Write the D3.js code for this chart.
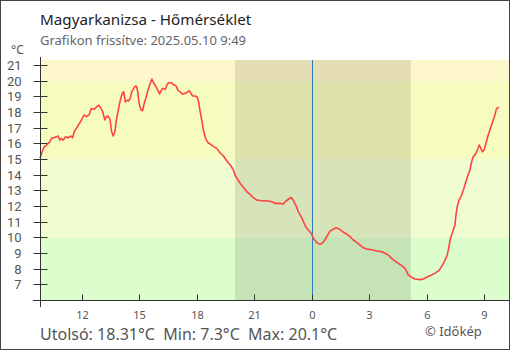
<!DOCTYPE html>
<html><head><meta charset="utf-8">
<script src="https://cdn.jsdelivr.net/npm/d3@7/dist/d3.min.js"></script>
<style>
html,body{margin:0;padding:0;background:#fff;}
svg{display:block;font-family:"Noto Sans",sans-serif;}
</style></head>
<body><svg id="c" width="510" height="350"></svg>
<script>
// ---- data ----
const times = ["09:50","09:57","10:03","10:11","10:16","10:21","10:26","10:35","10:42","10:47","10:52","10:57","11:03","11:10","11:18","11:27","11:32","11:37","11:44","11:52","12:00","12:08","12:16","12:23","12:31","12:40","12:47","12:54","13:01","13:06","13:13","13:18","13:23","13:29","13:34","13:39","13:44","13:49","13:55","14:00","14:07","14:12","14:17","14:24","14:27","14:32","14:37","14:46","14:51","14:55","15:00","15:06","15:11","15:16","15:21","15:28","15:35","15:40","15:45","15:53","15:59","16:04","16:09","16:14","16:22","16:27","16:32","16:40","16:48","16:55","17:01","17:08","17:16","17:22","17:29","17:37","17:43","17:48","17:55","18:01","18:06","18:11","18:16","18:21","18:27","18:32","18:37","18:42","18:52","19:03","19:13","19:24","19:34","19:45","19:55","20:00","20:06","20:16","20:26","20:37","20:47","20:57","21:08","21:24","21:39","21:55","22:05","22:21","22:31","22:39","22:47","22:55","23:02","23:10","23:18","23:27","23:34","23:41","23:49","23:58","00:05","00:16","00:26","00:36","00:47","00:57","01:08","01:16","01:26","01:37","01:49","02:00","02:10","02:21","02:31","02:41","02:52","03:08","03:23","03:39","03:49","03:59","04:10","04:20","04:31","04:41","04:52","05:02","05:12","05:23","05:38","05:49","05:59","06:15","06:25","06:39","06:49","06:57","07:04","07:09","07:14","07:21","07:28","07:31","07:35","07:41","07:49","07:56","08:02","08:09","08:15","08:20","08:25","08:30","08:38","08:44","08:49","08:54","08:59","09:05","09:12","09:19","09:26","09:33","09:38","09:43","09:46"];
const temps = [15.05,15.46,15.78,15.89,16.0,16.10,16.32,16.38,16.42,16.47,16.21,16.32,16.21,16.42,16.36,16.47,16.36,16.74,16.96,17.23,17.49,17.81,17.70,17.81,18.23,18.17,18.34,18.43,18.23,18.02,17.49,17.70,17.74,17.53,16.74,16.47,16.74,17.49,18.13,18.65,19.19,19.29,18.65,18.76,18.70,18.87,19.29,19.61,19.66,19.40,18.55,18.13,18.08,18.55,18.87,19.40,19.83,20.1,19.87,19.61,19.36,19.15,19.36,19.51,19.45,19.72,19.87,19.87,19.74,19.68,19.40,19.29,19.13,19.19,19.23,19.36,19.15,19.02,19.02,18.97,18.65,18.02,17.49,16.85,16.37,16.15,16.02,15.96,15.81,15.68,15.40,15.19,14.89,14.62,14.30,13.98,13.77,13.45,13.19,12.91,12.75,12.53,12.38,12.34,12.34,12.27,12.17,12.17,12.13,12.32,12.43,12.55,12.38,12.06,11.63,11.32,11.00,10.68,10.47,10.26,9.94,9.66,9.55,9.68,10.04,10.40,10.53,10.61,10.53,10.36,10.21,10.04,9.83,9.68,9.51,9.34,9.25,9.21,9.13,9.08,8.98,8.87,8.66,8.49,8.34,8.19,8.02,7.60,7.45,7.34,7.3,7.34,7.45,7.60,7.70,7.91,8.23,8.55,8.87,9.40,9.94,10.36,10.79,11.42,11.95,12.38,12.70,13.13,13.55,13.98,14.30,14.83,15.14,15.25,15.57,15.89,15.68,15.46,15.57,16.00,16.53,16.96,17.38,17.81,18.23,18.27,18.31];
const startDay = "2025-05-09";
const domainStart = "2025-05-09 09:50";
const domainEnd = "2025-05-10 10:17";
const nightStart = "2025-05-09 20:00";
const nightEnd = "2025-05-10 05:10";
const midnight = "2025-05-10 00:00";
const yTicks = [6,7,8,9,10,11,12,13,14,15,16,17,18,19,20,21];
const yLabels = ["","7","8","9","10","11","12","13","14","15","16","17","18","19","20","21"];
const bandFrom = [6,10,15,20];
const bandTo = [10,15,20,21.32];
const bandColors = ["#dcfdcc","#effdd0","#f6fcc0","#fff7cc"];
const title = "Magyarkanizsa - Hőmérséklet";
const subtitle = "Grafikon frissítve: 2025.05.10 9:49";
const lastVal = "18.31", minVal = "7.3", maxVal = "20.1";

// ---- build ----
const parse = d3.timeParse("%Y-%m-%d %H:%M");
const data = [];
let day = parse(startDay + " 00:00"), prevMin = -1;
times.forEach((t, i) => {
  const [h, m] = t.split(":").map(Number);
  const mins = h * 60 + m;
  if (mins < prevMin) day = d3.timeDay.offset(day, 1);
  prevMin = mins;
  data.push({ t: d3.timeMinute.offset(day, mins), v: temps[i] });
});

const L = 40, R = 509, T = 60, B = 300;
const svg = d3.select("#c");
const x = d3.scaleTime().domain([parse(domainStart), parse(domainEnd)]).range([L, R]);
const y = d3.scaleLinear().domain([6, 21.32]).range([B, T]);

// bands
svg.append("g").selectAll("rect").data(bandFrom).join("rect")
  .attr("x", L).attr("width", R - L)
  .attr("y", (d, i) => y(bandTo[i])).attr("height", (d, i) => y(d) - y(bandTo[i]))
  .attr("fill", (d, i) => bandColors[i]);

// night
svg.append("rect").attr("x", x(parse(nightStart))).attr("y", T)
  .attr("width", x(parse(nightEnd)) - x(parse(nightStart))).attr("height", B - T)
  .attr("fill", "rgba(40,40,20,0.12)");

// midnight line
svg.append("line").attr("x1", Math.round(x(parse(midnight))) + 0.5).attr("x2", Math.round(x(parse(midnight))) + 0.5)
  .attr("y1", T).attr("y2", B).attr("stroke", "#2c80c0").attr("stroke-width", 1);

// line
svg.append("path").datum(data)
  .attr("d", d3.line().x(d => x(d.t)).y(d => y(d.v)))
  .attr("fill", "none").attr("stroke", "#ff4343").attr("stroke-width", 1.6).attr("stroke-linejoin", "round");

// y axis
const ya = svg.append("g").attr("transform", `translate(${L + 0.5},0)`);
ya.append("line").attr("y1", 57).attr("y2", 307).attr("stroke", "#333");
const yt = ya.selectAll("g.t").data(yTicks).join("g").attr("class", "t")
  .attr("transform", d => `translate(0,${Math.round(y(d)) + 0.5})`);
yt.append("line").attr("x1", -7).attr("x2", 7).attr("stroke", "#333");
yt.append("text").attr("x", -19).attr("dy", "0.36em").attr("text-anchor", "end")
  .attr("font-family", "Roboto, 'Noto Sans', sans-serif")
  .attr("font-size", 13).attr("fill", "#555").text((d, i) => yLabels[i]);
svg.append("text").attr("x", 11).attr("y", 54).attr("font-size", 12).attr("fill", "#555").text("°C");

// x axis
const xa = svg.append("g").attr("transform", `translate(0,${B + 0.5})`);
xa.append("line").attr("x1", L - 7).attr("x2", R).attr("stroke", "#333");
const xTicks = x.ticks(d3.timeHour.every(3));
const xt = xa.selectAll("g.t").data(xTicks).join("g").attr("class", "t")
  .attr("transform", d => `translate(${Math.round(x(d)) + 0.5},0)`);
xt.append("line").attr("y1", -6).attr("y2", 0).attr("stroke", "#333");
xt.append("text").attr("y", 18).attr("text-anchor", "middle").attr("font-size", 11).attr("fill", "#555")
  .text(d => d3.timeFormat("%-H")(d));

// texts
svg.append("text").attr("x", 40).attr("y", 25).attr("font-size", 15.2).attr("fill", "#222").text(title);
svg.append("text").attr("x", 40).attr("y", 45).attr("font-size", 13).attr("fill", "#666").text(subtitle);
svg.append("text").attr("x", 40).attr("y", 340).attr("font-size", 16).attr("fill", "#555").attr("xml:space", "preserve")
  .text(`Utolsó: ${lastVal}°C  Min: ${minVal}°C  Max: ${maxVal}°C`);
svg.append("text").attr("x", 425).attr("y", 336).attr("font-size", 13).attr("fill", "#555").text("© Időkép");

// frame
svg.append("rect").attr("x", 0.5).attr("y", 0.5).attr("width", 509).attr("height", 349)
  .attr("fill", "none").attr("stroke", "#444");
</script></body></html>
